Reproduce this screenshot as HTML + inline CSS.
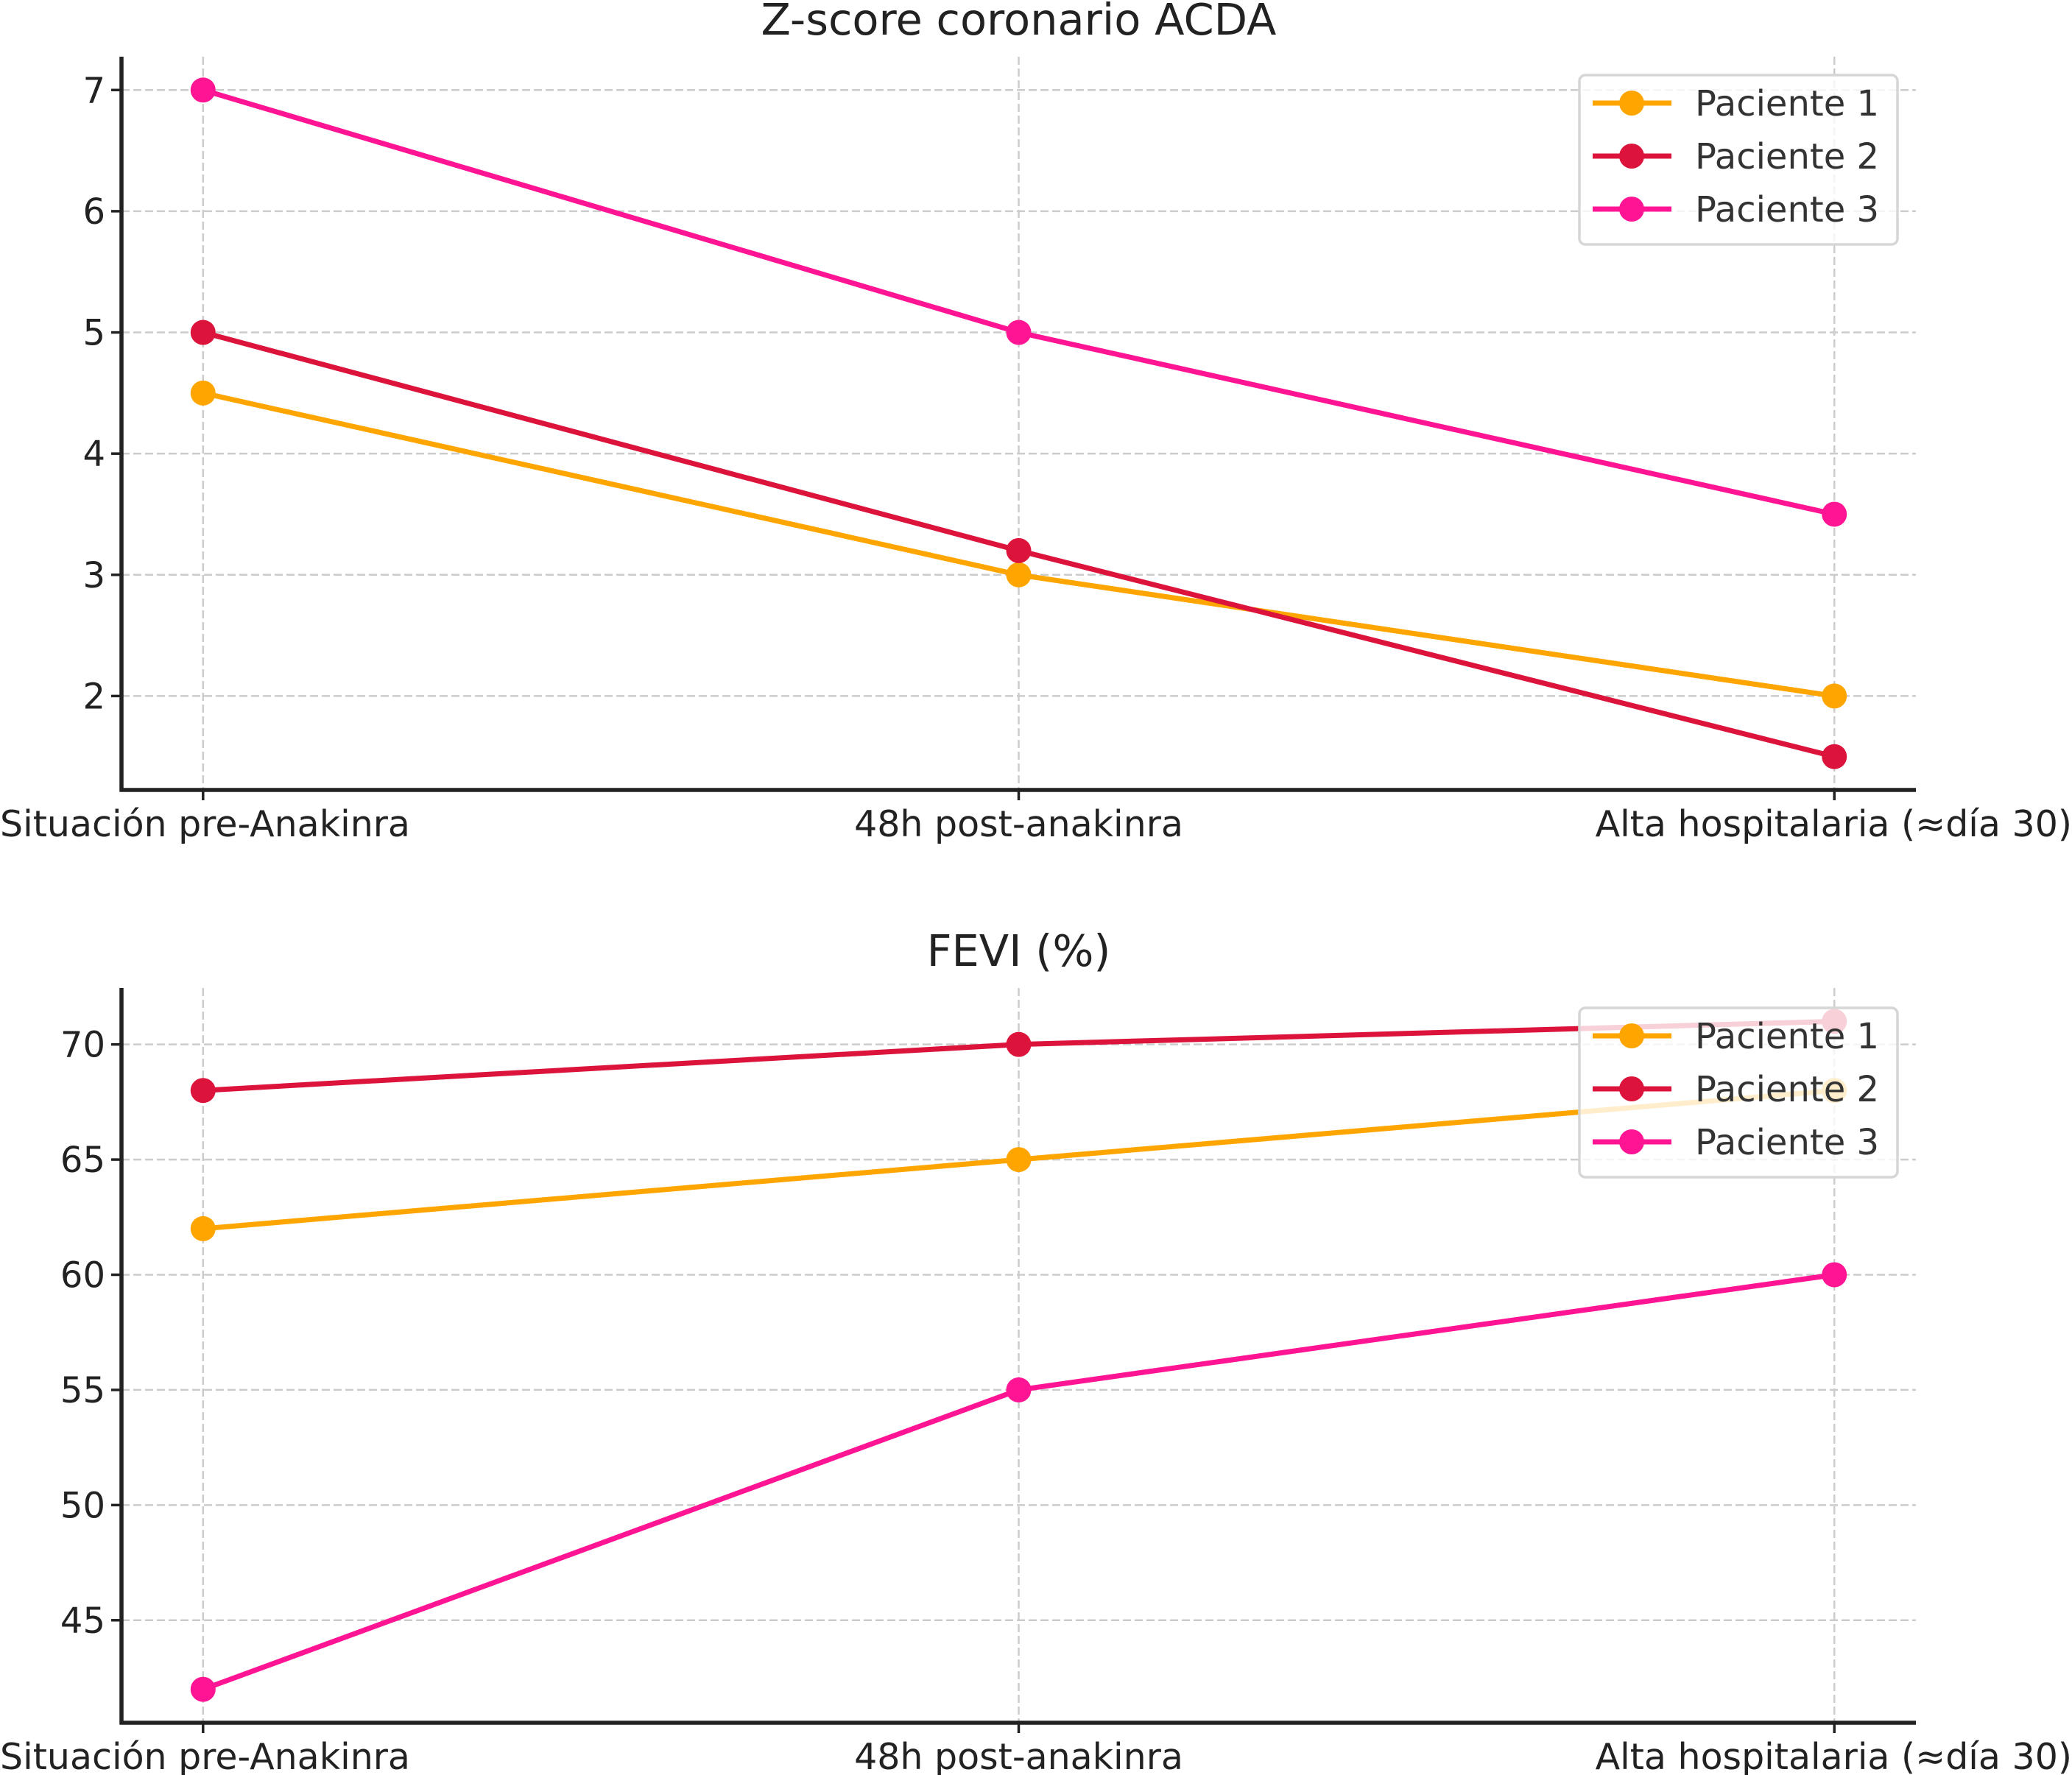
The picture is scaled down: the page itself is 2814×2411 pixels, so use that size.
<!DOCTYPE html>
<html><head><meta charset="utf-8"><style>
html,body{margin:0;padding:0;background:#fff;}
svg{display:block;font-family:"DejaVu Sans","Liberation Sans",sans-serif;}
</style></head><body>
<svg id="chart" width="2814" height="2411" xmlns="http://www.w3.org/2000/svg"></svg>
<script>
const categories = ["Situación pre-Anakinra", "48h post-anakinra", "Alta hospitalaria (≈día 30)"];
const seriesNames = ["Paciente 1", "Paciente 2", "Paciente 3"];
const seriesColors = ["#FFA500", "#DC143C", "#FF1493"];
const zscoreP1 = [4.5, 3, 2];
const zscoreP2 = [5, 3.2, 1.5];
const zscoreP3 = [7, 5, 3.5];
const feviP1 = [62, 65, 68];
const feviP2 = [68, 70, 71];
const feviP3 = [42, 55, 60];
const zscoreTicks = [2, 3, 4, 5, 6, 7];
const feviTicks = [45, 50, 55, 60, 65, 70];

const NS = "http://www.w3.org/2000/svg";
const svg = document.getElementById("chart");
function mk(tag, attrs, parent, text) {
  const e = document.createElementNS(NS, tag);
  for (const k in attrs) e.setAttribute(k, attrs[k]);
  if (text !== undefined) e.textContent = text;
  (parent || svg).appendChild(e);
  return e;
}

function drawPanel(opt) {
  const g = mk("g", {});
  
  
  const L = 165, R = 2602, T = opt.top, B = opt.bottom;
  const all = [].concat(...opt.series);
  const mn = Math.min(...all), mx = Math.max(...all), pad = (mx - mn) * 0.05;
  const y0 = mn - pad, y1 = mx + pad;
  const yS = v => B - (v - y0) / (y1 - y0) * (B - T);
  const xS = i => L + (i + 0.1) / 2.2 * (R - L);

  opt.ticks.forEach(t => {
    const gl = mk("line", {x1: L, x2: R, y1: yS(t), y2: yS(t), stroke: "#cccccc", "stroke-width": 2.5, "stroke-dasharray": "11,5"}, g);
    
    
  });
  categories.forEach((c, i) => {
    const gl = mk("line", {x1: xS(i), x2: xS(i), y1: T, y2: B, stroke: "#cccccc", "stroke-width": 2.5, "stroke-dasharray": "11,5"}, g);
    
    
  });
  const ya = mk("line", {x1: L, x2: L, y1: T, y2: B + 2.5, stroke: "#222", "stroke-width": 5.5}, g);
  
  
  const xa = mk("line", {x1: L - 2.5, x2: R, y1: B, y2: B, stroke: "#222", "stroke-width": 5.5}, g);
  
  
  opt.ticks.forEach(t => {
    mk("line", {x1: L - 14, x2: L, y1: yS(t), y2: yS(t), stroke: "#222", "stroke-width": 3.5}, g);
    const tl = mk("text", {x: L - 22, y: yS(t) + 17, "text-anchor": "end", "font-size": 48, fill: "#222"}, g, String(t));
    
    
  });
  categories.forEach((c, i) => {
    mk("line", {x1: xS(i), x2: xS(i), y1: B, y2: B + 14, stroke: "#222", "stroke-width": 3.5}, g);
    const anchor = i === 0 ? "start" : (i === 2 ? "end" : "middle");
    const x = i === 0 ? 0 : (i === 2 ? 2814 : xS(i));
    const tl = mk("text", {x: x, y: B + 63, "text-anchor": anchor, "font-size": 49, fill: "#222"}, g, c);
    
    
  });
  const tt = mk("text", {x: (L + R) / 2, y: T - 30, "text-anchor": "middle", "font-size": 59, fill: "#222"}, g, opt.title);
  
  
  opt.series.forEach((vals, s) => {
    const sg = mk("g", {}, g);
    
    
    const pts = vals.map((v, i) => xS(i) + "," + yS(v)).join(" ");
    const pl = mk("polyline", {points: pts, fill: "none", stroke: seriesColors[s], "stroke-width": 7}, sg);
    
    
    vals.forEach((v, i) => {
      const c = mk("circle", {cx: xS(i), cy: yS(v), r: 17, fill: seriesColors[s]}, sg);
      
      
    });
  });
  const lg = mk("g", {}, g);
  
  
  const lt = opt.legendTop;
  mk("rect", {x: 2145, y: lt, width: 432, height: 230, rx: 8, fill: "rgba(255,255,255,0.8)", stroke: "#d6d6d6", "stroke-width": 3.5}, lg);
  seriesNames.forEach((n, s) => {
    const ey = lt + 38 + s * 72;
    const eg = mk("g", {}, lg);
    
    
    mk("line", {x1: 2163, x2: 2270, y1: ey, y2: ey, stroke: seriesColors[s], "stroke-width": 7}, eg);
    mk("circle", {cx: 2216, cy: ey, r: 17, fill: seriesColors[s]}, eg);
    mk("text", {x: 2302, y: ey + 17, "font-size": 48, fill: "#333"}, eg, n);
  });
}

drawPanel({name: "zscore-panel", title: "Z-score coronario ACDA", top: 77, bottom: 1073, ticks: zscoreTicks, series: [zscoreP1, zscoreP2, zscoreP3], legendTop: 102});
drawPanel({name: "fevi-panel", title: "FEVI (%)", top: 1342, bottom: 2340, ticks: feviTicks, series: [feviP1, feviP2, feviP3], legendTop: 1369});
</script>
</body></html>
